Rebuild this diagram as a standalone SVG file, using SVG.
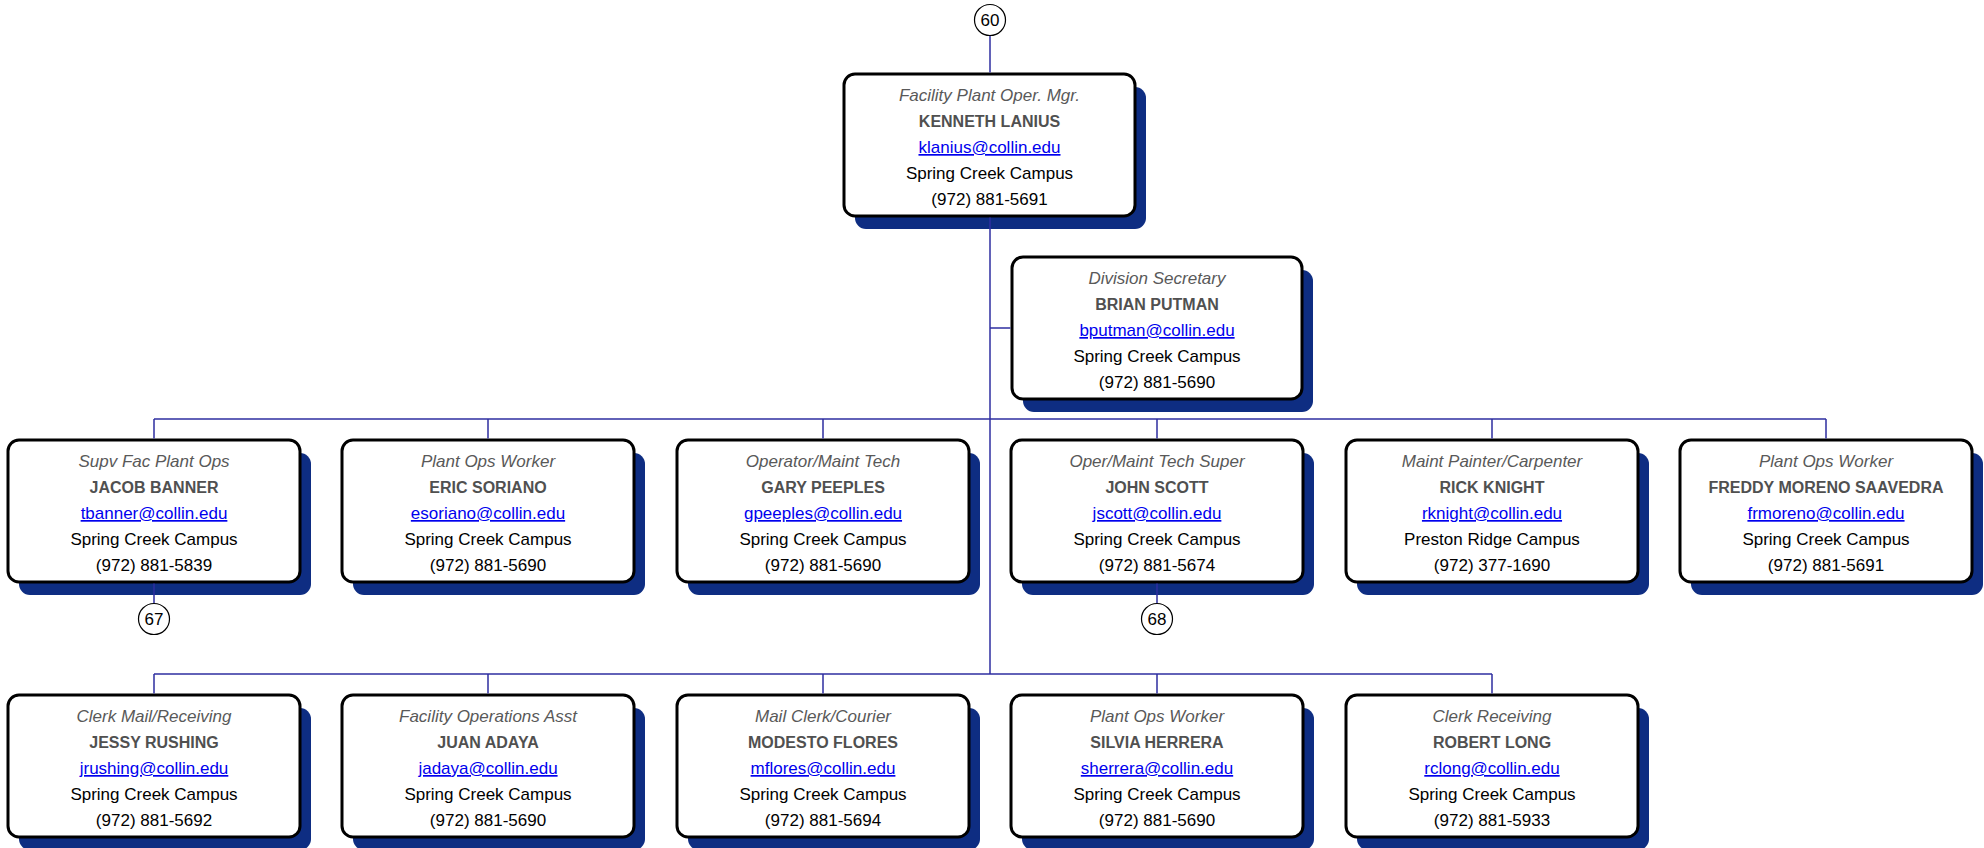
<svg xmlns="http://www.w3.org/2000/svg" width="1984" height="848" viewBox="0 0 1984 848">
<defs>
<style>
.sh{fill:#0e2d82}
.bx{fill:#ffffff;stroke:#000000;stroke-width:3}
text{font-family:"Liberation Sans",Arial,sans-serif;text-anchor:middle;font-size:17px}
.t{font-style:italic;fill:#595959}
.n{font-weight:bold;fill:#505050;font-size:16px}
.e{fill:#0000ee;text-decoration:underline}
.d{fill:#000000}
.c{fill:#ffffff;stroke:#000000;stroke-width:1.2}
.ln{stroke:#2e2ea0;stroke-width:1.5;fill:none}
</style>
</defs>
<rect width="1984" height="848" fill="#ffffff"/>
<g id="nodes">
<g id="n-lanius">
<rect class="sh" x="855" y="87" width="291" height="142" rx="11"/>
<rect class="bx" x="844" y="74" width="291" height="142" rx="11"/>
<text class="t" x="989.5" y="101">Facility Plant Oper. Mgr.</text>
<text class="n" x="989.5" y="127">KENNETH LANIUS</text>
<text class="e" x="989.5" y="153">klanius@collin.edu</text>
<text class="d" x="989.5" y="179">Spring Creek Campus</text>
<text class="d" x="989.5" y="205">(972) 881-5691</text>
</g>
<g id="n-putman">
<rect class="sh" x="1023" y="270" width="290" height="142" rx="11"/>
<rect class="bx" x="1012" y="257" width="290" height="142" rx="11"/>
<text class="t" x="1157" y="284">Division Secretary</text>
<text class="n" x="1157" y="310">BRIAN PUTMAN</text>
<text class="e" x="1157" y="336">bputman@collin.edu</text>
<text class="d" x="1157" y="362">Spring Creek Campus</text>
<text class="d" x="1157" y="388">(972) 881-5690</text>
</g>
<g id="n-banner">
<rect class="sh" x="19" y="453" width="292" height="142" rx="11"/>
<rect class="bx" x="8" y="440" width="292" height="142" rx="11"/>
<text class="t" x="154" y="467">Supv Fac Plant Ops</text>
<text class="n" x="154" y="493">JACOB BANNER</text>
<text class="e" x="154" y="519">tbanner@collin.edu</text>
<text class="d" x="154" y="545">Spring Creek Campus</text>
<text class="d" x="154" y="571">(972) 881-5839</text>
</g>
<g id="n-soriano">
<rect class="sh" x="353" y="453" width="292" height="142" rx="11"/>
<rect class="bx" x="342" y="440" width="292" height="142" rx="11"/>
<text class="t" x="488" y="467">Plant Ops Worker</text>
<text class="n" x="488" y="493">ERIC SORIANO</text>
<text class="e" x="488" y="519">esoriano@collin.edu</text>
<text class="d" x="488" y="545">Spring Creek Campus</text>
<text class="d" x="488" y="571">(972) 881-5690</text>
</g>
<g id="n-peeples">
<rect class="sh" x="688" y="453" width="292" height="142" rx="11"/>
<rect class="bx" x="677" y="440" width="292" height="142" rx="11"/>
<text class="t" x="823" y="467">Operator/Maint Tech</text>
<text class="n" x="823" y="493">GARY PEEPLES</text>
<text class="e" x="823" y="519">gpeeples@collin.edu</text>
<text class="d" x="823" y="545">Spring Creek Campus</text>
<text class="d" x="823" y="571">(972) 881-5690</text>
</g>
<g id="n-scott">
<rect class="sh" x="1022" y="453" width="292" height="142" rx="11"/>
<rect class="bx" x="1011" y="440" width="292" height="142" rx="11"/>
<text class="t" x="1157" y="467">Oper/Maint Tech Super</text>
<text class="n" x="1157" y="493">JOHN SCOTT</text>
<text class="e" x="1157" y="519">jscott@collin.edu</text>
<text class="d" x="1157" y="545">Spring Creek Campus</text>
<text class="d" x="1157" y="571">(972) 881-5674</text>
</g>
<g id="n-knight">
<rect class="sh" x="1357" y="453" width="292" height="142" rx="11"/>
<rect class="bx" x="1346" y="440" width="292" height="142" rx="11"/>
<text class="t" x="1492" y="467">Maint Painter/Carpenter</text>
<text class="n" x="1492" y="493">RICK KNIGHT</text>
<text class="e" x="1492" y="519">rknight@collin.edu</text>
<text class="d" x="1492" y="545">Preston Ridge Campus</text>
<text class="d" x="1492" y="571">(972) 377-1690</text>
</g>
<g id="n-moreno">
<rect class="sh" x="1691" y="453" width="292" height="142" rx="11"/>
<rect class="bx" x="1680" y="440" width="292" height="142" rx="11"/>
<text class="t" x="1826" y="467">Plant Ops Worker</text>
<text class="n" x="1826" y="493">FREDDY MORENO SAAVEDRA</text>
<text class="e" x="1826" y="519">frmoreno@collin.edu</text>
<text class="d" x="1826" y="545">Spring Creek Campus</text>
<text class="d" x="1826" y="571">(972) 881-5691</text>
</g>
<g id="n-rushing">
<rect class="sh" x="19" y="708" width="292" height="142" rx="11"/>
<rect class="bx" x="8" y="695" width="292" height="142" rx="11"/>
<text class="t" x="154" y="722">Clerk Mail/Receiving</text>
<text class="n" x="154" y="748">JESSY RUSHING</text>
<text class="e" x="154" y="774">jrushing@collin.edu</text>
<text class="d" x="154" y="800">Spring Creek Campus</text>
<text class="d" x="154" y="826">(972) 881-5692</text>
</g>
<g id="n-adaya">
<rect class="sh" x="353" y="708" width="292" height="142" rx="11"/>
<rect class="bx" x="342" y="695" width="292" height="142" rx="11"/>
<text class="t" x="488" y="722">Facility Operations Asst</text>
<text class="n" x="488" y="748">JUAN ADAYA</text>
<text class="e" x="488" y="774">jadaya@collin.edu</text>
<text class="d" x="488" y="800">Spring Creek Campus</text>
<text class="d" x="488" y="826">(972) 881-5690</text>
</g>
<g id="n-flores">
<rect class="sh" x="688" y="708" width="292" height="142" rx="11"/>
<rect class="bx" x="677" y="695" width="292" height="142" rx="11"/>
<text class="t" x="823" y="722">Mail Clerk/Courier</text>
<text class="n" x="823" y="748">MODESTO FLORES</text>
<text class="e" x="823" y="774">mflores@collin.edu</text>
<text class="d" x="823" y="800">Spring Creek Campus</text>
<text class="d" x="823" y="826">(972) 881-5694</text>
</g>
<g id="n-herrera">
<rect class="sh" x="1022" y="708" width="292" height="142" rx="11"/>
<rect class="bx" x="1011" y="695" width="292" height="142" rx="11"/>
<text class="t" x="1157" y="722">Plant Ops Worker</text>
<text class="n" x="1157" y="748">SILVIA HERRERA</text>
<text class="e" x="1157" y="774">sherrera@collin.edu</text>
<text class="d" x="1157" y="800">Spring Creek Campus</text>
<text class="d" x="1157" y="826">(972) 881-5690</text>
</g>
<g id="n-long">
<rect class="sh" x="1357" y="708" width="292" height="142" rx="11"/>
<rect class="bx" x="1346" y="695" width="292" height="142" rx="11"/>
<text class="t" x="1492" y="722">Clerk Receiving</text>
<text class="n" x="1492" y="748">ROBERT LONG</text>
<text class="e" x="1492" y="774">rclong@collin.edu</text>
<text class="d" x="1492" y="800">Spring Creek Campus</text>
<text class="d" x="1492" y="826">(972) 881-5933</text>
</g>
</g>
<g id="connectors">
<path class="ln" d="M990 36 V72.5"/>
<path class="ln" d="M990 217.5 V674"/>
<path class="ln" d="M990 328 H1010.5"/>
<path class="ln" d="M154 419 H1826"/>
<path class="ln" d="M154 419 V438.5 M488 419 V438.5 M823 419 V438.5 M1157 419 V438.5 M1492 419 V438.5 M1826 419 V438.5"/>
<path class="ln" d="M154 674 H1492"/>
<path class="ln" d="M154 674 V693.5 M488 674 V693.5 M823 674 V693.5 M1157 674 V693.5 M1492 674 V693.5"/>
<path class="ln" d="M154 583.5 V603 M1157 583.5 V603"/>
</g>
<g id="off-page">
<g id="ref-60">
<circle class="c" cx="990" cy="20" r="15.5"/>
<text class="d" x="990" y="26">60</text>
</g>
<g id="ref-67">
<circle class="c" cx="154" cy="619" r="15.5"/>
<text class="d" x="154" y="625">67</text>
</g>
<g id="ref-68">
<circle class="c" cx="1157" cy="619" r="15.5"/>
<text class="d" x="1157" y="625">68</text>
</g>
</g>
</svg>
